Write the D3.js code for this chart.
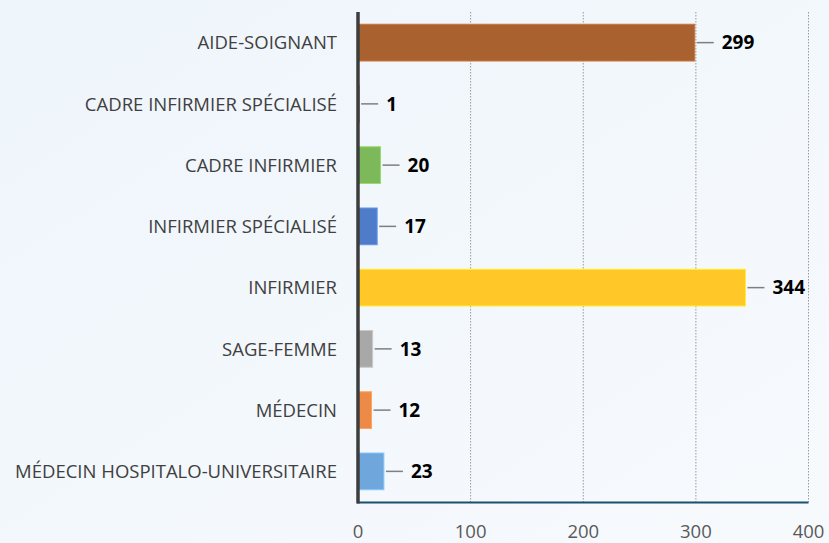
<!DOCTYPE html>
<html><head><meta charset="utf-8">
<script src="https://cdn.jsdelivr.net/npm/d3@7"></script>
<style>html,body{margin:0;padding:0;background:#f3f8fc;}svg{display:block;}</style>
</head><body>
<svg id="c" width="829" height="543"></svg>
<script>
const categories = ["AIDE-SOIGNANT","CADRE INFIRMIER SPÉCIALISÉ","CADRE INFIRMIER","INFIRMIER SPÉCIALISÉ","INFIRMIER","SAGE-FEMME","MÉDECIN","MÉDECIN HOSPITALO-UNIVERSITAIRE"];
const values = [299, 1, 20, 17, 344, 13, 12, 23];
const barColors = ["#a9612f","#a9612f","#7db95b","#4f7cc8","#ffc728","#a8a8a8","#ee8a48","#6fa7dc"];
const xTicks = [0, 100, 200, 300, 400];

(function(){
const svg = d3.select("#c");
const W = 829, H = 543;
const defs = svg.append("defs");
const g0 = defs.append("linearGradient").attr("id","bg").attr("x1","0").attr("y1","0").attr("x2","1").attr("y2","1");
g0.append("stop").attr("offset","0").attr("stop-color","#eef5fb");
g0.append("stop").attr("offset","1").attr("stop-color","#f7fafd");
svg.append("rect").attr("width",W).attr("height",H).attr("fill","url(#bg)");

const pL = 358, pR = 808.5, pT = 12, pB = 502;
const x = d3.scaleLinear().domain([0, 400]).range([pL, pR]);
const y = d3.scaleBand().domain(categories).range([pT, pB]).paddingInner(0.4).paddingOuter(0.2);

// gridlines
svg.append("g").selectAll("line").data(xTicks.slice(1)).join("line")
  .attr("x1", d => x(d)).attr("x2", d => x(d))
  .attr("y1", pT).attr("y2", pB)
  .attr("stroke","#9a9a9a").attr("stroke-width",1).attr("stroke-dasharray","1.5,1.5");

// bars
const data = categories.map((c,i) => ({c, v: values[i], col: barColors[i]}));
svg.append("g").selectAll("rect").data(data).join("rect")
  .attr("x", x(0)).attr("y", d => y(d.c))
  .attr("width", d => x(d.v) - x(0)).attr("height", y.bandwidth())
  .attr("fill", d => d.col)
  .attr("stroke", d => d3.color(d.col).brighter(0.5))
  .attr("stroke-width", 1);

// leader lines and value labels
const lab = svg.append("g");
data.forEach(d => {
  const xe = x(d.v);
  const cy = y(d.c) + y.bandwidth()/2;
  lab.append("line").attr("x1", xe + 2).attr("x2", xe + 19).attr("y1", cy).attr("y2", cy)
    .attr("stroke","#7f7f7f").attr("stroke-width",1.5);
  lab.append("text").attr("x", xe + 27).attr("y", cy).attr("dy","0.36em")
    .attr("font-family","'Open Sans', sans-serif").attr("font-weight","bold")
    .attr("font-size",19).attr("fill","#000").text(d.v);
});

// category labels
svg.append("g").selectAll("text").data(categories).join("text")
  .attr("x", pL - 21).attr("y", d => y(d) + y.bandwidth()/2).attr("dy","0.36em")
  .attr("text-anchor","end").attr("font-family","'Open Sans', sans-serif")
  .attr("font-size",18.5).attr("fill","#404040").text(d => d);

// x tick labels
svg.append("g").selectAll("text").data(xTicks).join("text")
  .attr("x", d => x(d)).attr("y", 538)
  .attr("text-anchor","middle").attr("font-family","'Open Sans', sans-serif")
  .attr("font-size",18.5).attr("fill","#595959").text(d => d);

// axis lines
svg.append("line").attr("x1", pL - 1).attr("x2", pR).attr("y1", pB + 0.5).attr("y2", pB + 0.5)
  .attr("stroke","#1d4f6e").attr("stroke-width",2);
svg.append("line").attr("x1", pL).attr("x2", pL).attr("y1", pT).attr("y2", pB + 1.5)
  .attr("stroke","#3d3d3d").attr("stroke-width",3.5);
})();
</script>
</body></html>
